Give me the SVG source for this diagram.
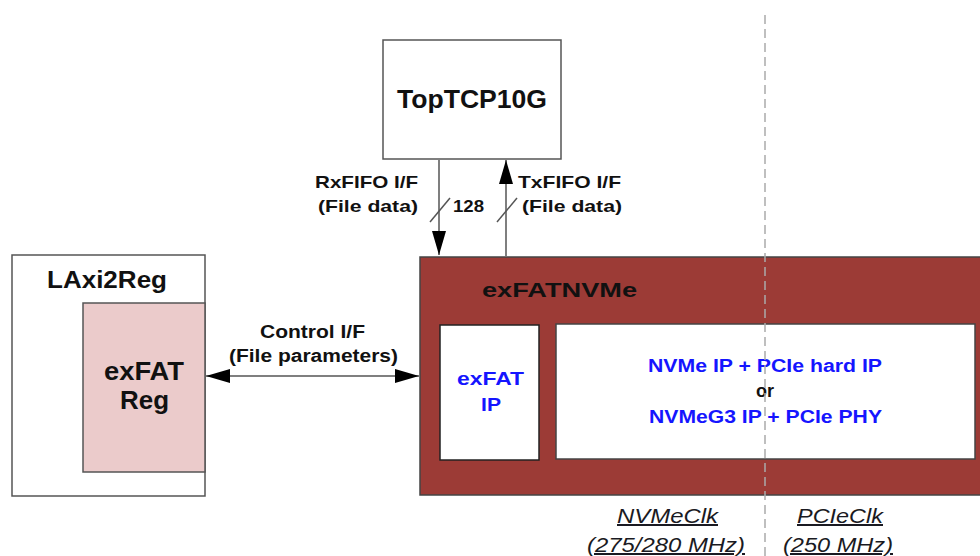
<svg xmlns="http://www.w3.org/2000/svg" width="980" height="556" viewBox="0 0 980 556">
<defs>
<style>
.t{font-family:"Liberation Sans",Arial,sans-serif;font-weight:bold;fill:#111}
.b{fill:#1515ff}
.box{fill:#fff;stroke:#555;stroke-width:1.5}
.ln{stroke:#555;stroke-width:1.5;fill:none}
.ck{font-family:"Liberation Sans",Arial,sans-serif;font-style:italic;fill:#1a1a22;text-decoration:underline}
</style>
<marker id="ah" viewBox="0 0 24 14" refX="24" refY="7" markerWidth="24" markerHeight="14" markerUnits="userSpaceOnUse" orient="auto-start-reverse">
<path d="M0,0 L24,7 L0,14 Z" fill="#000"/>
</marker>
</defs>
<rect width="980" height="556" fill="#fff"/>

<g id="TopTCP10G">
<rect class="box" x="383" y="40" width="178" height="119"/>
<text class="t" x="472" y="108" font-size="25" text-anchor="middle" textLength="150" lengthAdjust="spacingAndGlyphs">TopTCP10G</text>
</g>

<g id="LAxi2Reg">
<rect class="box" x="12" y="255" width="193" height="241"/>
<text class="t" x="47" y="288" font-size="23" textLength="120" lengthAdjust="spacingAndGlyphs">LAxi2Reg</text>
<g id="exFATReg">
<rect x="83" y="303" width="122" height="169" fill="#ebcbcb" stroke="#555" stroke-width="1.5"/>
<text class="t" x="104" y="380" font-size="25" textLength="80" lengthAdjust="spacingAndGlyphs">exFAT</text>
<text class="t" x="120" y="409" font-size="25" textLength="49" lengthAdjust="spacingAndGlyphs">Reg</text>
</g>
</g>

<g id="exFATNVMe">
<rect x="420" y="257" width="570" height="238" fill="#9c3b36" stroke="#444" stroke-width="1.5"/>
<text class="t" x="482" y="297" font-size="21" textLength="155" lengthAdjust="spacingAndGlyphs">exFATNVMe</text>
<g id="exFATIP">
<rect x="440" y="325" width="99" height="135" fill="#fff" stroke="#222" stroke-width="1.5"/>
<text class="t b" x="457" y="385" font-size="18" textLength="67" lengthAdjust="spacingAndGlyphs">exFAT</text>
<text class="t b" x="481" y="411" font-size="18" textLength="20" lengthAdjust="spacingAndGlyphs">IP</text>
</g>
<g id="NVMeIP">
<rect x="556" y="324" width="419" height="135" fill="#fff" stroke="#444" stroke-width="1.5"/>
<text class="t b" x="648" y="372" font-size="18" textLength="234" lengthAdjust="spacingAndGlyphs">NVMe IP + PCIe hard IP</text>
<text class="t" x="765" y="397" font-size="18" text-anchor="middle">or</text>
<text class="t b" x="649" y="423" font-size="18" textLength="233" lengthAdjust="spacingAndGlyphs">NVMeG3 IP + PCIe PHY</text>
</g>
</g>

<g id="connectors">
<line class="ln" x1="439" y1="160" x2="439" y2="255" marker-end="url(#ah)"/>
<line class="ln" x1="506" y1="256" x2="506" y2="160" marker-end="url(#ah)"/>
<line class="ln" x1="430" y1="222" x2="450" y2="198"/>
<line class="ln" x1="497" y1="222" x2="517" y2="198"/>
<line class="ln" x1="206" y1="376" x2="419" y2="376" marker-start="url(#ah)" marker-end="url(#ah)"/>
<text class="t" x="418" y="188" font-size="17" text-anchor="end" textLength="103" lengthAdjust="spacingAndGlyphs">RxFIFO I/F</text>
<text class="t" x="418" y="212" font-size="17" text-anchor="end" textLength="100" lengthAdjust="spacingAndGlyphs">(File data)</text>
<text class="t" x="453" y="212" font-size="17" textLength="31" lengthAdjust="spacingAndGlyphs">128</text>
<text class="t" x="518" y="188" font-size="17" textLength="103" lengthAdjust="spacingAndGlyphs">TxFIFO I/F</text>
<text class="t" x="522" y="212" font-size="17" textLength="100" lengthAdjust="spacingAndGlyphs">(File data)</text>
<text class="t" x="260" y="338" font-size="18" textLength="105" lengthAdjust="spacingAndGlyphs">Control I/F</text>
<text class="t" x="229" y="362" font-size="18" textLength="169" lengthAdjust="spacingAndGlyphs">(File parameters)</text>
</g>

<g id="clocks">
<text class="ck" x="617" y="523" font-size="20" textLength="101" lengthAdjust="spacingAndGlyphs">NVMeClk</text>
<text class="ck" x="587" y="552" font-size="20" textLength="158" lengthAdjust="spacingAndGlyphs">(275/280 MHz)</text>
<text class="ck" x="797" y="523" font-size="20" textLength="86" lengthAdjust="spacingAndGlyphs">PCIeClk</text>
<text class="ck" x="783" y="552" font-size="20" textLength="110" lengthAdjust="spacingAndGlyphs">(250 MHz)</text>
</g>

<line id="divider" x1="765" y1="15" x2="765" y2="556" stroke="#aaa" stroke-width="1.5" stroke-dasharray="9,5"/>
</svg>
